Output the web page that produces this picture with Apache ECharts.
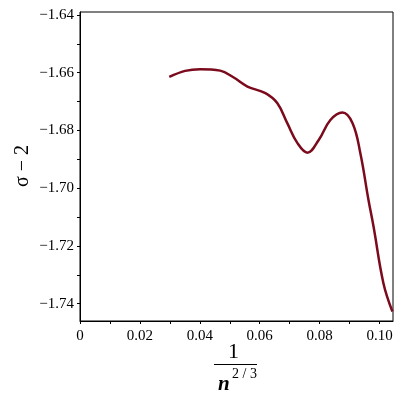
<!DOCTYPE html>
<html>
<head>
<meta charset="utf-8">
<script src="https://cdn.jsdelivr.net/npm/echarts@6/dist/echarts.min.js"></script>
<style>
  html, body { margin: 0; padding: 0; background: #fff; }
  #main { width: 400px; height: 400px; }
</style>
</head>
<body>
<div id="main"></div>
<script>
// curve
var xVals = [0.0298, 0.0351, 0.0401, 0.0468, 0.0512, 0.0559, 0.0619, 0.0659, 0.0692, 0.0726,
             0.0759, 0.0797, 0.0836, 0.0876, 0.0910, 0.0936, 0.0963, 0.0980, 0.1013, 0.1043];
var yVals = [-1.6615, -1.6594, -1.6588, -1.6593, -1.6616, -1.6648, -1.6671, -1.6706, -1.6775, -1.6844,
             -1.6877, -1.6833, -1.6764, -1.6738, -1.6775, -1.6879, -1.7040, -1.7133, -1.7329, -1.7427];
var xTickLabels = [0, 0.02, 0.04, 0.06, 0.08, 0.10];
var xTicks = [0, 0.01, 0.02, 0.03, 0.04, 0.05, 0.06, 0.07, 0.08, 0.09, 0.10];
var yTickLabels = [-1.74, -1.72, -1.70, -1.68, -1.66, -1.64];
var yTicks = [-1.74, -1.73, -1.72, -1.71, -1.70, -1.69, -1.68, -1.67, -1.66, -1.65, -1.64];

var pts = xVals.map(function (x, i) { return [x, yVals[i]]; });
var serif = "'Liberation Serif', 'DejaVu Serif', serif";

var myChart = echarts.init(document.getElementById("main"));
myChart.setOption({
  animation: false,
  grid: { left: 80, right: 7, top: 12, bottom: 79, show: true, borderColor: "#000", borderWidth: 1 },
  xAxis: {
    type: "value",
    min: 0,
    max: 0.1045,
    axisLine: { show: true, onZero: false, lineStyle: { color: "#000", width: 1 } },
    axisTick: { show: true, customValues: xTicks, length: 3, lineStyle: { color: "#000" } },
    axisLabel: {
      customValues: xTickLabels,
      margin: 8,
      color: "#000",
      fontFamily: serif,
      fontSize: 15,
      formatter: function (v) { return v === 0 ? "0" : v.toFixed(2); }
    },
    splitLine: { show: false }
  },
  yAxis: {
    type: "value",
    min: -1.746,
    max: -1.639,
    axisLine: { show: true, onZero: false, lineStyle: { color: "#000", width: 1 } },
    axisTick: { show: true, customValues: yTicks, length: 3, lineStyle: { color: "#000" } },
    axisLabel: {
      customValues: yTickLabels,
      margin: 6,
      color: "#000",
      fontFamily: serif,
      fontSize: 15,
      formatter: function (v) { return "\u2212" + Math.abs(v).toFixed(2); }
    },
    splitLine: { show: false }
  },
  graphic: [
    {
      type: "text", left: 13, top: 145, rotation: Math.PI / 2,
      style: { text: "σ − 2", fontFamily: serif, fontSize: 20, fill: "#000" }
    },
    {
      type: "text", left: 228, top: 341,
      style: { text: "1", fontFamily: serif, fontSize: 22, fill: "#000" }
    },
    {
      type: "line", shape: { x1: 214, y1: 364.5, x2: 257, y2: 364.5 },
      style: { stroke: "#000", lineWidth: 1 }
    },
    {
      type: "text", left: 218, top: 374,
      style: { text: "n", fontFamily: serif, fontSize: 21, fontStyle: "italic", fontWeight: "bold", fill: "#000" }
    },
    {
      type: "text", left: 232, top: 367,
      style: { text: "2 / 3", fontFamily: serif, fontSize: 14, fill: "#000" }
    }
  ],
  series: [
    {
      type: "line",
      data: pts,
      smooth: 0.4,
      showSymbol: false,
      lineStyle: { color: "#7b0a1c", width: 2.5 }
    }
  ]
});
</script>
</body>
</html>
